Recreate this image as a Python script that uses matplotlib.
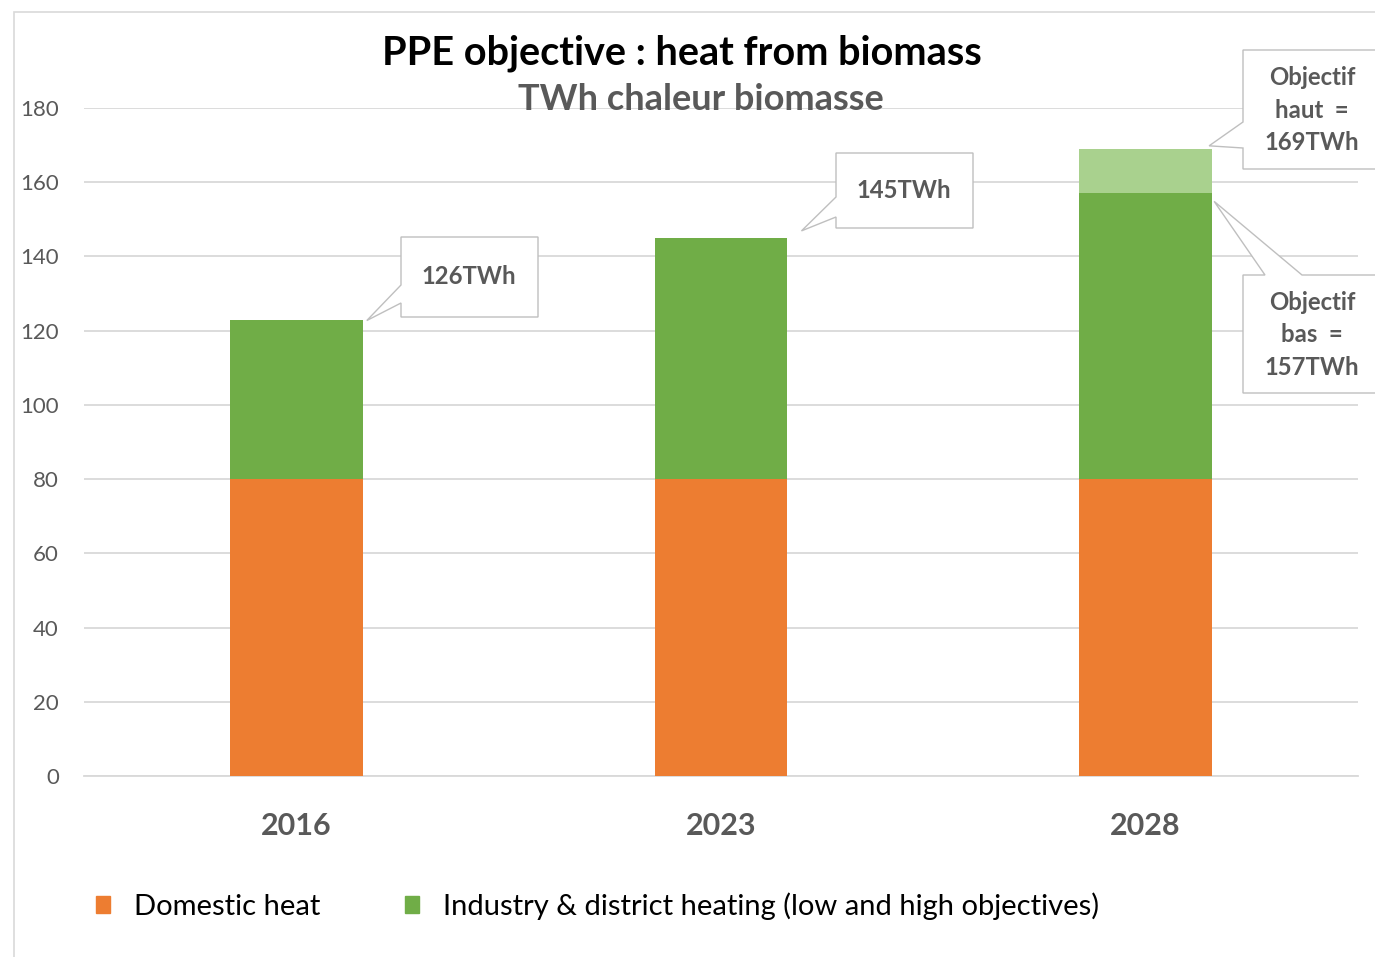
import matplotlib
matplotlib.use("Agg")
import matplotlib.pyplot as plt
from matplotlib.patches import Polygon, Rectangle, Patch
import numpy as np

# ---- data ----
years = ["2016", "2023", "2028"]
domestic = [80, 80, 80]
industry_low = [43, 65, 77]
industry_high_extra = [0, 0, 12]
yticks = [0, 20, 40, 60, 80, 100, 120, 140, 160, 180]
callout_labels = ["126TWh", "145TWh", "Objectif\nhaut  =\n169TWh", "Objectif\nbas  =\n157TWh"]
legend_labels = ["Domestic heat", "Industry & district heating (low and high objectives)"]

ORANGE = "#ED7D31"
GREEN = "#70AD47"
LGREEN = "#A9D18E"
GRID = "#D9D9D9"
GREY = "#595959"
FONT = ["Lato", "DejaVu Sans"]
plt.rcParams["font.family"] = FONT

W, H = 1375, 957
fig = plt.figure(figsize=(W / 100, H / 100), dpi=100)

def fx(x):
    return x / W

def fy(y):
    return 1 - y / H

# outer border
fig.add_artist(Rectangle((fx(14), fy(960)), fx(1380) - fx(14), fy(12) - fy(960),
                         transform=fig.transFigure, fill=False, edgecolor="#D9D9D9", lw=1.2))

ax = fig.add_axes([fx(84), fy(776), fx(1358) - fx(84), fy(108) - fy(776)])
x = np.arange(len(years))
bw = 0.313
ax.bar(x, domestic, bw, color=ORANGE, zorder=3)
ax.bar(x, industry_low, bw, bottom=domestic, color=GREEN, zorder=3)
tot_low = np.array(domestic) + np.array(industry_low)
ax.bar(x, industry_high_extra, bw, bottom=tot_low, color=LGREEN, zorder=3)

ax.set_xlim(-0.5, 2.5)
ax.set_ylim(0, 180)
ax.set_yticks(yticks)
ax.yaxis.grid(True, color=GRID, lw=1.3, zorder=0)
ax.set_axisbelow(True)
for s in ["left", "right", "top"]:
    ax.spines[s].set_visible(False)
ax.spines["bottom"].set_color(GRID)
ax.spines["bottom"].set_linewidth(1.3)
ax.tick_params(axis="y", length=0, pad=18, labelsize=16, labelcolor=GREY)
ax.tick_params(axis="x", length=0, pad=26, labelsize=22, labelcolor=GREY)
ax.set_xticks(x)
ax.set_xticklabels(years, fontweight="bold")

fig.text(fx(682), fy(53), "PPE objective : heat from biomass", ha="center", va="center",
         fontsize=28.5, fontweight="bold", color="black")
fig.text(fx(701), fy(100), "TWh chaleur biomasse", ha="center", va="center",
         fontsize=26, fontweight="bold", color=GREY)

# ---- callouts ----
inv = fig.transFigure.inverted()

def data_to_px(xd, yd):
    p = ax.transData.transform((xd, yd))
    f = inv.transform(p)
    return f[0] * W, (1 - f[1]) * H

def callout(box, base1, base2, tip):
    # box: (x0, y0, x1, y1) in pixel top-left coords
    x0, y0, x1, y1 = box
    edge = base1[2]
    if edge == "left":
        poly_pts = [(x0, y0), (x1, y0), (x1, y1), (x0, y1),
                    (x0, base2[1]), tip, (x0, base1[1])]
    else:  # top
        poly_pts = [(x0, y0), (base1[0], y0), tip, (base2[0], y0), (x1, y0), (x1, y1), (x0, y1)]
    poly = Polygon([(fx(a), fy(b)) for a, b in poly_pts], closed=True, transform=fig.transFigure,
                   facecolor="white", edgecolor="#BFBFBF", lw=1.0, zorder=10)
    fig.add_artist(poly)

CFS = 17.2
# 2016
tx, ty = data_to_px(x[0] + bw / 2, tot_low[0])
callout((401, 237, 538, 317), (401, 285, "left"), (401, 303, "left"), (tx + 4, ty + 1))
fig.text(fx(469), fy(277), callout_labels[0], ha="center", va="center", fontsize=CFS,
         fontweight="bold", color=GREY, zorder=11)
# 2023
tx, ty = data_to_px(x[1] + bw / 2, tot_low[1])
callout((836, 153, 973, 228), (836, 197, "left"), (836, 217, "left"), (tx + 14, ty - 7))
fig.text(fx(904), fy(191), callout_labels[1], ha="center", va="center", fontsize=CFS,
         fontweight="bold", color=GREY, zorder=11)
# 2028 high
tot_high = tot_low[2] + industry_high_extra[2]
tx, ty = data_to_px(x[2] + bw / 2, tot_high)
callout((1243, 50, 1376, 169), (1243, 122, "left"), (1243, 148, "left"), (tx - 3, ty - 3))
fig.text(fx(1312), fy(110), callout_labels[2], ha="center", va="center", fontsize=CFS,
         fontweight="bold", color=GREY, zorder=11, linespacing=1.5)
# 2028 low
tx, ty = data_to_px(x[2] + bw / 2, tot_low[2])
callout((1243, 275, 1376, 393), (1265, 0, "top"), (1302, 0, "top"), (tx + 2, ty + 8))
fig.text(fx(1312), fy(335), callout_labels[3], ha="center", va="center", fontsize=CFS,
         fontweight="bold", color=GREY, zorder=11, linespacing=1.5)

# ---- legend ----
handles = [Patch(color=ORANGE), Patch(color=GREEN)]
fig.legend(handles, legend_labels, loc="center left", bbox_to_anchor=(fx(96), fy(906)),
           ncol=2, frameon=False, fontsize=21, handlelength=0.48, handleheight=0.48,
           handletextpad=0.82, columnspacing=2.9, borderpad=0, borderaxespad=0)

fig.savefig("out.png", dpi=100)
